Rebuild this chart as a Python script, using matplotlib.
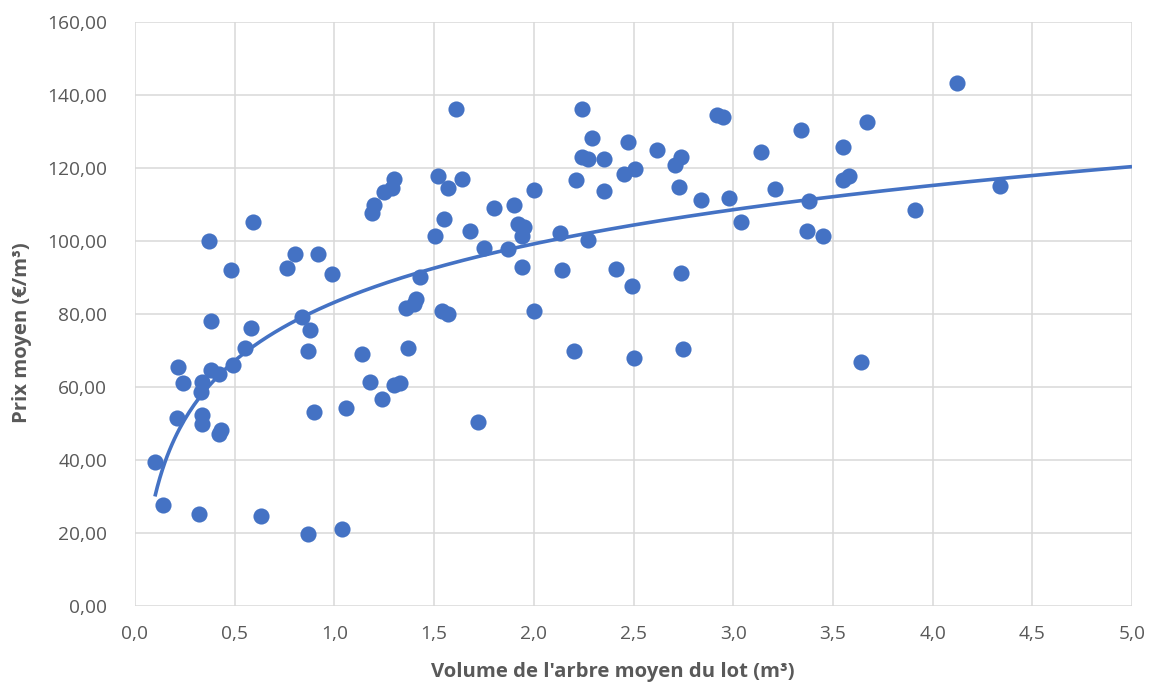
import numpy as np
import matplotlib
matplotlib.use("Agg")
import matplotlib.pyplot as plt
from matplotlib.ticker import FuncFormatter

# Volume de l'arbre moyen du lot (m³)
volume = [0.10, 0.14, 0.21, 0.215, 0.24, 0.32, 0.33, 0.335, 0.335, 0.335,
          0.37, 0.38, 0.38, 0.42, 0.42, 0.43, 0.48, 0.49, 0.55, 0.58,
          0.59, 0.63, 0.76, 0.80, 0.84, 0.88, 0.87, 0.87, 0.90, 0.92,
          0.99, 1.04, 1.06, 1.14, 1.18, 1.19, 1.20, 1.24, 1.25, 1.29,
          1.30, 1.30, 1.33, 1.36, 1.37, 1.40, 1.41, 1.43, 1.505, 1.52,
          1.54, 1.55, 1.57, 1.57, 1.61, 1.64, 1.68, 1.72, 1.75, 1.80,
          1.87, 1.90, 1.92, 1.95, 1.94, 1.94, 2.00, 2.00, 2.13, 2.14,
          2.20, 2.21, 2.24, 2.24, 2.27, 2.29, 2.27, 2.35, 2.35, 2.41,
          2.47, 2.45, 2.49, 2.51, 2.50, 2.62, 2.71, 2.74, 2.73, 2.74,
          2.75, 2.84, 2.92, 2.95, 2.98, 3.04, 3.14, 3.21, 3.34, 3.37,
          3.38, 3.45, 3.55, 3.55, 3.58, 3.64, 3.67, 3.91, 4.12, 4.34]
# Prix moyen (€/m³)
prix = [39.4, 27.7, 51.5, 65.4, 61.1, 25.2, 58.6, 61.4, 52.3, 49.9,
        100.0, 78.1, 64.6, 63.6, 47.1, 48.2, 92.1, 66.0, 70.7, 76.2,
        105.2, 24.6, 92.6, 96.4, 79.2, 75.6, 69.9, 19.7, 53.2, 96.4,
        91.0, 21.1, 54.2, 69.0, 61.4, 107.7, 109.9, 56.7, 113.4, 114.5,
        117.0, 60.5, 61.1, 81.6, 70.7, 82.8, 84.0, 90.1, 101.4, 117.8,
        80.8, 106.0, 80.0, 114.5, 136.2, 117.0, 102.7, 50.4, 98.1, 109.0,
        97.8, 109.9, 104.7, 103.8, 101.4, 92.9, 114.0, 80.8, 102.2, 92.1,
        69.9, 116.7, 136.2, 123.0, 122.5, 128.2, 100.3, 122.5, 113.7, 92.3,
        127.1, 118.4, 87.7, 119.7, 67.9, 124.9, 120.8, 123.0, 114.8, 91.2,
        70.4, 111.2, 134.5, 134.0, 111.8, 105.2, 124.4, 114.2, 130.4, 102.7,
        110.9, 101.4, 125.7, 116.7, 117.8, 66.8, 132.6, 108.5, 143.3, 115.1]

# Logarithmic trend line y = a*ln(x) + b
trend_a = 23.1
trend_b = 83.2
trend_range = [0.10, 5.0]

x_ticks = [0.0, 0.5, 1.0, 1.5, 2.0, 2.5, 3.0, 3.5, 4.0, 4.5, 5.0]
y_ticks = [0, 20, 40, 60, 80, 100, 120, 140, 160]

blue = "#4472C4"
grey_text = "#595959"
grid_col = "#D9D9D9"

plt.rcParams['font.family'] = ['Open Sans', 'DejaVu Sans']

fig = plt.figure(figsize=(11.5, 6.89), dpi=100)
ax = fig.add_axes([135/1150, 83/689, (1132-135)/1150, (606-22)/689])

ax.scatter(volume, prix, s=135, color=blue, zorder=3, linewidths=0)

xt = np.linspace(trend_range[0], trend_range[1], 400)
ax.plot(xt, trend_a*np.log(xt) + trend_b, color=blue, lw=2.6, zorder=4,
        solid_capstyle='butt')

ax.set_xlim(x_ticks[0], x_ticks[-1])
ax.set_ylim(y_ticks[0], y_ticks[-1])
ax.set_xticks(x_ticks)
ax.set_yticks(y_ticks)
ax.xaxis.set_major_formatter(FuncFormatter(lambda v, p: f"{v:.1f}".replace('.', ',')))
ax.yaxis.set_major_formatter(FuncFormatter(lambda v, p: f"{v:.2f}".replace('.', ',')))
ax.grid(True, color=grid_col, lw=1.1, zorder=0)
ax.set_axisbelow(True)
for s in ax.spines.values():
    s.set_visible(False)
ax.tick_params(length=0, labelsize=13.8, labelcolor=grey_text)
ax.tick_params(axis='x', pad=14)
ax.tick_params(axis='y', pad=20)

fig.text(613/1150, 1-672/689, "Volume de l'arbre moyen du lot (m³)", ha='center', va='center',
         fontsize=14.6, fontweight='bold', color=grey_text)
fig.text(22/1150, 1-333/689, "Prix moyen (€/m³)", ha='center', va='center', rotation=90,
         fontsize=14.6, fontweight='bold', color=grey_text)

fig.savefig("out.png", dpi=100, facecolor='white')
